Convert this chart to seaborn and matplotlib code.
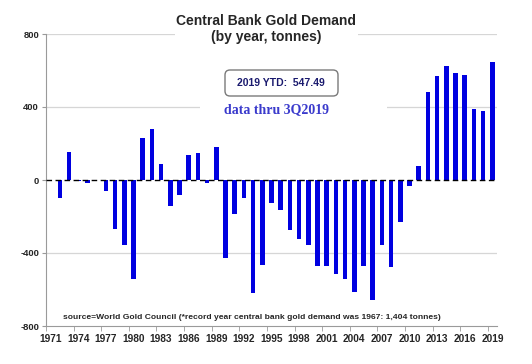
import numpy as np
import pandas as pd
import seaborn as sns
import matplotlib.pyplot as plt
from matplotlib import patches

# Central bank net gold demand, tonnes
years = list(range(1971, 2020))
demand = [0, -97, 154, -3, -18, 0, -58, -267, -358, -540,
          231, 277, 87, -140, -84, 138, 146, -18, 180, -427,
          -187, -98, -618, -464, -127, -164, -273, -322, -358, -473,
          -473, -513, -542, -615, -473, -658, -358, -478, -229, -31,
          78, 482, 569, 624, 584, 576, 391, 378, 649]
tick_years = list(range(1971, 2020, 3))
y_ticks = [-800, -400, 0, 400, 800]

df = pd.DataFrame({"Year": years, "Tonnes": demand})

sns.set_style("white")
plt.rcParams["font.family"] = ["Liberation Sans", "DejaVu Sans"]

fig = plt.figure(figsize=(5.32, 3.64), dpi=100)
ax = fig.add_axes([46 / 532, 1 - 326 / 364, (497 - 46) / 532, (326 - 34) / 364])

sns.barplot(data=df, x="Year", y="Tonnes", native_scale=True, color="#0000e0",
            saturation=1, width=0.5, errorbar=None, linewidth=0, ax=ax)

ax.set_xlim(1970.5, 2019.5)
ax.set_ylim(-800, 800)
ax.set_xlabel("")
ax.set_ylabel("")

# gridlines and dashed zero axis
for yv in [800, 400, -400]:
    ax.axhline(yv, color="#d6d6d6", lw=0.9, zorder=0)
ax.axhline(0, color="black", lw=1, ls=(0, (4, 2.5)), zorder=5)

for s in ["top", "right"]:
    ax.spines[s].set_visible(False)
ax.spines["left"].set_color("#9a9a9a")
ax.spines["bottom"].set_color("#9a9a9a")

ax.set_yticks(y_ticks)
ax.set_yticklabels([str(v) for v in y_ticks], fontsize=6.8, fontweight="bold")
ax.tick_params(axis="y", length=3, color="#9a9a9a", pad=2, left=True)

ax.set_xticks(tick_years)
ax.set_xticklabels([str(v) for v in tick_years], fontsize=7.3, fontweight="bold")
ax.set_xticks(np.arange(1970.5, 2019, 3), minor=True)
ax.tick_params(axis="x", which="major", length=0, pad=6, bottom=True)
ax.tick_params(axis="x", which="minor", length=3.5, color="#9a9a9a", bottom=True)

# white patches that break the gridlines behind the titles
fig.patches.append(patches.Rectangle((1.75, 3.64 - 0.40), 1.83, 0.12, transform=fig.dpi_scale_trans,
                                     facecolor="white", edgecolor="none", zorder=1))
fig.patches.append(patches.Rectangle((2.00, 3.64 - 1.13), 1.87, 0.12, transform=fig.dpi_scale_trans,
                                     facecolor="white", edgecolor="none", zorder=1))

fig.text(266 / 532, 1 - 29 / 364, "Central Bank Gold Demand\n(by year, tonnes)",
         ha="center", va="center", fontsize=10, fontweight="bold", linespacing=1.15, zorder=3)

fig.patches.append(patches.FancyBboxPatch((2.25, 3.64 - 0.96), 1.13, 0.26,
                                          boxstyle="round,pad=0,rounding_size=0.05",
                                          transform=fig.dpi_scale_trans, facecolor="white",
                                          edgecolor="#7a7a7a", lw=1, zorder=2))
fig.text(281 / 532, 1 - 83 / 364, "2019 YTD:  547.49", ha="center", va="center",
         fontsize=7.5, fontweight="bold", color="#1a1a6e", zorder=3)

fig.text(276 / 532, 1 - 110 / 364, "data thru 3Q2019", ha="center", va="center",
         fontsize=10, fontweight="bold", color="#3a3acc",
         family=["Liberation Serif", "DejaVu Serif"], zorder=3)

ax.text(0.037, 0.018, "source=World Gold Council (*record year central bank gold demand was 1967: 1,404 tonnes)",
        transform=ax.transAxes, ha="left", va="bottom", fontsize=6.1, fontweight="bold")

fig.savefig("out.png", dpi=100)
